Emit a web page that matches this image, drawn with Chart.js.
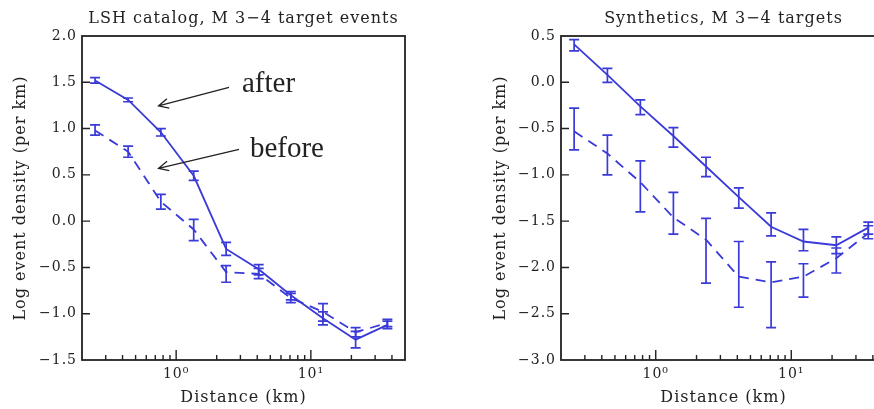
<!DOCTYPE html>
<html>
<head>
<meta charset="utf-8">
<script src="https://cdn.jsdelivr.net/npm/chart.js@4.4.0/dist/chart.umd.min.js"></script>
<style>
  html, body { margin: 0; padding: 0; background: #fff; overflow: hidden; }
  #wrap { position: relative; width: 874px; height: 409px; overflow: hidden; }
  .panel { position: absolute; top: 0; height: 409px; }
</style>
</head>
<body>
<div id="wrap">
  <div class="panel" style="left:0;width:440px"><canvas id="lsh"></canvas></div>
  <div class="panel" style="left:440px;width:481px"><canvas id="syn"></canvas></div>
</div>
<script>
/* =========================
   DATA
========================= */
const distance = [0.25, 0.44, 0.77, 1.35, 2.35, 4.1, 7.1, 12.3, 21.5, 37];

// LSH catalog (left)
const lshAfter    = [1.52, 1.31, 0.96, 0.49, -0.30, -0.52, -0.80, -1.05, -1.28, -1.12];
const lshAfterLo  = [1.49, 1.29, 0.92, 0.44, -0.37, -0.58, -0.85, -1.12, -1.37, -1.16];
const lshAfterHi  = [1.55, 1.33, 1.00, 0.54, -0.23, -0.47, -0.76, -0.98, -1.19, -1.08];
const lshBefore   = [0.98, 0.75, 0.21, -0.09, -0.55, -0.57, -0.83, -0.98, -1.20, -1.10];
const lshBeforeLo = [0.93, 0.69, 0.13, -0.21, -0.66, -0.62, -0.88, -1.08, -1.25, -1.14];
const lshBeforeHi = [1.04, 0.81, 0.29, 0.02, -0.48, -0.51, -0.78, -0.89, -1.15, -1.06];

// Synthetics (right)
const synAfter    = [0.41, 0.08, -0.26, -0.58, -0.91, -1.24, -1.56, -1.72, -1.76, -1.57];
const synAfterLo  = [0.34, 0.00, -0.35, -0.70, -1.02, -1.36, -1.66, -1.82, -1.85, -1.64];
const synAfterHi  = [0.46, 0.15, -0.19, -0.49, -0.81, -1.14, -1.41, -1.59, -1.67, -1.51];
const synBefore   = [-0.53, -0.77, -1.08, -1.46, -1.70, -2.10, -2.16, -2.10, -1.90, -1.63];
const synBeforeLo = [-0.73, -1.00, -1.40, -1.64, -2.17, -2.43, -2.65, -2.32, -2.06, -1.69];
const synBeforeHi = [-0.28, -0.57, -0.85, -1.19, -1.47, -1.72, -1.94, -1.96, -1.79, -1.55];

// ticks
const xTickValues = [0.2, 0.3, 0.4, 0.5, 0.6, 0.7, 0.8, 0.9, 1, 2, 3, 4, 5, 6, 7, 8, 9, 10, 20, 30, 40, 50];
const xMajorTicks = [1, 10];
const xMajorLabels = ["10\u2070", "10\u00b9"];
const lshYTicks = [-1.5, -1.0, -0.5, 0.0, 0.5, 1.0, 1.5, 2.0];
const synYTicks = [-3.0, -2.5, -2.0, -1.5, -1.0, -0.5, 0.0, 0.5];

// annotations (left panel, data coords)
const noteText  = ["after", "before"];
const noteX     = [3.08, 3.53];
const noteY     = [1.48, 0.77];
const arrowTailX = [2.47, 2.93];
const arrowTailY = [1.446, 0.776];
const arrowHeadX = [0.74, 0.74];
const arrowHeadY = [1.244, 0.571];

/* =========================
   STYLE
========================= */
const BLUE = "#3a3ad8";
const INK = "#222";
const FACE = "DejaVu Serif";

/* =========================
   PLUGIN : frame, ticks, errors, notes
========================= */
const decor = {
  id: "decor",
  beforeDraw(chart) {
    chart.ctx.letterSpacing = "1px";
  },
  afterDatasetsDraw(chart, args, opts) {
    const { ctx, chartArea: a, scales: { x, y } } = chart;

    // error bars
    chart.data.datasets.forEach(ds => {
      ctx.save();
      ctx.strokeStyle = ds.borderColor;
      ctx.lineWidth = 1.7;
      ds.data.forEach((p, i) => {
        const px = x.getPixelForValue(p.x);
        const lo = y.getPixelForValue(ds.errLo[i]);
        const hi = y.getPixelForValue(ds.errHi[i]);
        ctx.beginPath();
        ctx.moveTo(px, lo); ctx.lineTo(px, hi);
        ctx.moveTo(px - 5, lo); ctx.lineTo(px + 5, lo);
        ctx.moveTo(px - 5, hi); ctx.lineTo(px + 5, hi);
        ctx.stroke();
      });
      ctx.restore();
    });

    ctx.save();
    ctx.strokeStyle = INK;
    ctx.lineWidth = 1.8;

    // frame
    ctx.strokeRect(a.left, a.top, a.right - a.left, a.bottom - a.top);

    // inward ticks
    ctx.lineWidth = 1.4;
    ctx.beginPath();
    xTickValues.forEach(v => {
      const px = x.getPixelForValue(v);
      if (px <= a.left + 1 || px >= a.right - 1) return;
      const len = xMajorTicks.includes(v) ? 10 : 5;
      ctx.moveTo(px, a.bottom); ctx.lineTo(px, a.bottom - len);
    });
    opts.yTicks.forEach(v => {
      const py = y.getPixelForValue(v);
      if (py <= a.top + 1 || py >= a.bottom - 1) return;
      ctx.moveTo(a.left, py); ctx.lineTo(a.left + 8, py);
    });
    ctx.stroke();

    // title
    ctx.fillStyle = INK;
    ctx.font = "16px '" + FACE + "'";
    ctx.letterSpacing = "1px";
    ctx.textAlign = "center";
    ctx.textBaseline = "middle";
    ctx.fillText(opts.title, (a.left + a.right) / 2, 19);

    // arrows + notes
    if (opts.notes) {
      ctx.lineWidth = 1.3;
      ctx.letterSpacing = "0px";
      noteText.forEach((t, i) => {
        const x0 = x.getPixelForValue(arrowTailX[i]), y0 = y.getPixelForValue(arrowTailY[i]);
        const x1 = x.getPixelForValue(arrowHeadX[i]), y1 = y.getPixelForValue(arrowHeadY[i]);
        const ang = Math.atan2(y1 - y0, x1 - x0);
        ctx.beginPath();
        ctx.moveTo(x0, y0); ctx.lineTo(x1, y1);
        ctx.moveTo(x1 - 11 * Math.cos(ang - 0.45), y1 - 11 * Math.sin(ang - 0.45));
        ctx.lineTo(x1, y1);
        ctx.lineTo(x1 - 11 * Math.cos(ang + 0.45), y1 - 11 * Math.sin(ang + 0.45));
        ctx.stroke();

        ctx.font = "29px 'Liberation Serif'";
        ctx.textAlign = "left";
        ctx.fillText(t, x.getPixelForValue(noteX[i]), y.getPixelForValue(noteY[i]));
      });
    }
    ctx.restore();
  }
};

/* =========================
   BUILD
========================= */
function pts(vals) {
  return vals.map((v, i) => ({ x: distance[i], y: v }));
}

function fmtY(v) {
  return (v < 0 ? "\u2212" : "") + Math.abs(v).toFixed(1);
}

function makeChart(id, title, yTicks, after, afterLo, afterHi, before, beforeLo, beforeHi, yWidth, yTitlePad, notes) {
  const font = { family: FACE, size: 16 };
  const tickFont = { family: FACE, size: 14 };
  return new Chart(document.getElementById(id), {
    type: "line",
    data: {
      datasets: [
        { label: "after", data: pts(after), errLo: afterLo, errHi: afterHi,
          borderColor: BLUE, borderWidth: 1.8, pointRadius: 0, tension: 0, fill: false },
        { label: "before", data: pts(before), errLo: beforeLo, errHi: beforeHi,
          borderColor: BLUE, borderWidth: 1.8, borderDash: [10, 7], pointRadius: 0, tension: 0, fill: false }
      ]
    },
    options: {
      responsive: true,
      maintainAspectRatio: false,
      animation: false,
      layout: { padding: { top: 36, right: 35, left: 0, bottom: 0 } },
      plugins: {
        legend: { display: false },
        tooltip: { enabled: false },
        decor: { title: title, yTicks: yTicks, notes: notes }
      },
      scales: {
        x: {
          type: "logarithmic",
          min: 0.2,
          max: 50,
          afterBuildTicks: s => { s.ticks = xTickValues.map(v => ({ value: v })); },
          afterFit: s => { s.height = 49; },
          ticks: {
            autoSkip: false, maxRotation: 0, padding: 6, color: INK, font: tickFont,
            callback: v => xMajorTicks.includes(v) ? xMajorLabels[xMajorTicks.indexOf(v)] : ""
          },
          grid: { display: false, drawTicks: false },
          border: { display: false },
          title: { display: true, text: "Distance (km)", color: INK, font: font, padding: { top: 0, bottom: 2 } }
        },
        y: {
          min: yTicks[0],
          max: yTicks[yTicks.length - 1],
          afterBuildTicks: s => { s.ticks = yTicks.map(v => ({ value: v })); },
          afterFit: s => { s.width = yWidth; },
          ticks: { padding: 5, color: INK, font: tickFont, callback: v => fmtY(v) },
          grid: { display: false, drawTicks: false },
          border: { display: false },
          title: { display: true, text: "Log event density (per km)", color: INK, font: font,
                   padding: { top: yTitlePad, bottom: 0 } }
        }
      }
    },
    plugins: [decor]
  });
}

makeChart("lsh", "LSH catalog, M 3\u22124 target events", lshYTicks,
  lshAfter, lshAfterLo, lshAfterHi, lshBefore, lshBeforeLo, lshBeforeHi, 82, 11, true);

makeChart("syn", "Synthetics, M 3\u22124 targets", synYTicks,
  synAfter, synAfterLo, synAfterHi, synBefore, synBeforeLo, synBeforeHi, 121, 51, false);
</script>
</body>
</html>
